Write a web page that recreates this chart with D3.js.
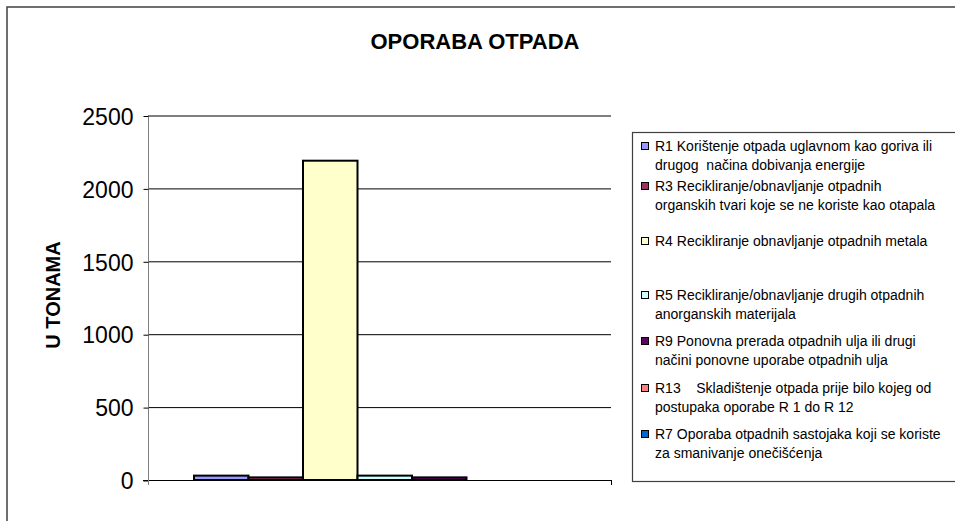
<!DOCTYPE html>
<html>
<head>
<meta charset="utf-8">
<script src="https://cdn.jsdelivr.net/npm/d3@7"></script>
<style>
  body { margin: 0; background: #fff; }
  text { font-family: "Liberation Sans", Arial, sans-serif; }
</style>
</head>
<body>
<script>
const width = 955;
const height = 521;

// data
const series = ['R1', 'R3', 'R4', 'R5', 'R9', 'R13', 'R7'];
const values = [30, 18, 2190, 30, 18, null, null];
const colors = ['#9999FF', '#993366', '#FFFFCC', '#CCFFFF', '#660066', '#FF8080', '#0066CC'];
const legendLabels = [
  ['R1 Korištenje otpada uglavnom kao goriva ili', 'drugog  načina dobivanja energije'],
  ['R3 Recikliranje/obnavljanje otpadnih', 'organskih tvari koje se ne koriste kao otapala'],
  ['R4 Recikliranje obnavljanje otpadnih metala'],
  ['R5 Recikliranje/obnavljanje drugih otpadnih', 'anorganskih materijala'],
  ['R9 Ponovna prerada otpadnih ulja ili drugi', 'načini ponovne uporabe otpadnih ulja'],
  ['R13    Skladištenje otpada prije bilo kojeg od', 'postupaka oporabe R 1 do R 12'],
  ['R7 Oporaba otpadnih sastojaka koji se koriste', 'za smanivanje onečišćenja']
];
const yTicks = [0, 500, 1000, 1500, 2000, 2500];

const svg = d3.select('body').append('svg').attr('width', width).attr('height', height);

// chart frame
svg.append('rect')
  .attr('x', 7).attr('y', 7)
  .attr('width', 980).attr('height', 560)
  .attr('fill', '#fff').attr('stroke', '#404040').attr('stroke-width', 1.5);

svg.append('text')
  .attr('x', 475).attr('y', 49)
  .attr('text-anchor', 'middle')
  .style('font-size', '22px').style('font-weight', 'bold')
  .text('OPORABA OTPADA');

const plot = {left: 148, right: 611, top: 115.5, bottom: 480};

const y = d3.scaleLinear().domain([0, 2500]).range([plot.bottom, plot.top]);
const x = d3.scaleBand().domain(series).range([plot.left + 46, plot.left + 46 + 7 * 54.5]);

const g = svg.append('g');

// gridlines
g.selectAll('.grid')
  .data(yTicks.filter(d => d > 0))
  .enter()
  .append('line')
  .attr('class', 'grid')
  .attr('x1', plot.left).attr('x2', plot.right)
  .attr('y1', d => y(d) + 0.5).attr('y2', d => y(d) + 0.5)
  .attr('stroke', '#000').attr('stroke-width', 1);

// y axis
const yAxis = g.append('g')
  .attr('transform', `translate(${plot.left + 0.5},0.5)`)
  .call(d3.axisLeft(y).tickValues(yTicks).tickSize(5).tickPadding(10).tickFormat(d3.format('d')));
yAxis.select('.domain').attr('stroke', '#808080').attr('d', `M0,${plot.top}V${plot.bottom}`);
yAxis.selectAll('.tick line').attr('stroke', '#000');
yAxis.selectAll('.tick text')
  .attr('fill', '#000')
  .style('font-size', '23px')
  .style('font-family', '"Liberation Sans", Arial, sans-serif')
  .attr('dy', '0.36em');

svg.append('text')
  .attr('transform', `translate(60,295) rotate(-90)`)
  .attr('text-anchor', 'middle')
  .style('font-size', '20px').style('font-weight', 'bold')
  .text('U TONAMA');

// bars
g.selectAll('.bar')
  .data(series.map((s, i) => ({s, v: values[i], c: colors[i]})).filter(d => d.v != null))
  .enter()
  .append('rect')
  .attr('class', 'bar')
  .attr('x', d => x(d.s))
  .attr('width', x.bandwidth())
  .attr('y', d => y(d.v))
  .attr('height', d => y(0) - y(d.v))
  .attr('fill', d => d.c)
  .attr('stroke', '#000').attr('stroke-width', 2);

// x baseline
g.append('line')
  .attr('x1', plot.left - 5).attr('x2', plot.right)
  .attr('y1', y(0) + 0.5).attr('y2', y(0) + 0.5)
  .attr('stroke', '#000');
g.append('line')
  .attr('x1', plot.right + 0.5).attr('x2', plot.right + 0.5)
  .attr('y1', y(0)).attr('y2', y(0) + 5)
  .attr('stroke', '#000');
g.append('line')
  .attr('x1', plot.left + 0.5).attr('x2', plot.left + 0.5)
  .attr('y1', y(0)).attr('y2', y(0) + 5)
  .attr('stroke', '#808080');

// legend
const legend = svg.append('g');
legend.append('rect')
  .attr('x', 632.5).attr('y', 132.5)
  .attr('width', 400).attr('height', 349)
  .attr('fill', '#fff').attr('stroke', '#404040').attr('stroke-width', 1.2);

const rowY = [146, 186, 241, 295, 341, 388, 434];
const items = legend.selectAll('.item')
  .data(series)
  .enter()
  .append('g')
  .attr('class', 'item')
  .attr('transform', (d, i) => `translate(0,${rowY[i]})`);

items.append('rect')
  .attr('x', 641.5).attr('y', -3.5)
  .attr('width', 7).attr('height', 7)
  .attr('fill', (d, i) => colors[i])
  .attr('stroke', '#000').attr('stroke-width', 1);

items.each(function(d, i) {
  const t = d3.select(this).append('text')
    .attr('x', 655).attr('y', 0)
    .style('font-size', '14px');
  legendLabels[i].forEach((line, j) => {
    t.append('tspan')
      .attr('x', 655)
      .attr('dy', j === 0 ? '0.36em' : '18.5px')
      .style('white-space', 'pre')
      .text(line);
  });
});
</script>
</body>
</html>
